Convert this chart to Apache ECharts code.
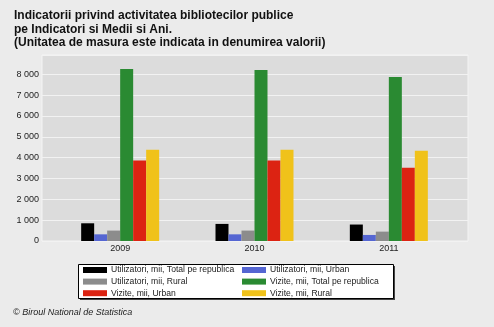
<!DOCTYPE html>
<html>
<head>
<meta charset="utf-8">
<script src="https://cdn.jsdelivr.net/npm/echarts@6/dist/echarts.min.js"></script>
<style>
  html, body { margin: 0; padding: 0; background: #ebebeb; }
  #chart { width: 494px; height: 327px; }
</style>
</head>
<body>
<div id="chart"></div>
<script>
// Categories (years)
const years = ['2009', '2010', '2011'];

// Series names
const seriesNames = [
  'Utilizatori, mii, Total pe republica',
  'Utilizatori, mii, Urban',
  'Utilizatori, mii, Rural',
  'Vizite, mii, Total pe republica',
  'Vizite, mii, Urban',
  'Vizite, mii, Rural'
];

// Values, thousands
const utilizatoriTotal = [850, 820, 790];
const utilizatoriUrban = [320, 320, 290];
const utilizatoriRural = [500, 500, 450];
const viziteTotal = [8255, 8207, 7870];
const viziteUrban = [3865, 3865, 3510];
const viziteRural = [4375, 4375, 4327];

// Y axis ticks
const yTickStep = 1000;
const yTop = 8925;

const seriesColors = ['#000000', '#5566d2', '#8c8c8c', '#2a8a32', '#dc2312', '#f0c21a'];
const seriesValues = [utilizatoriTotal, utilizatoriUrban, utilizatoriRural, viziteTotal, viziteUrban, viziteRural];

const FONT = '"Liberation Sans", Arial, sans-serif';

const chart = echarts.init(document.getElementById('chart'), null, { renderer: 'canvas' });

const fmt = v => String(v).replace(/\B(?=(\d{3})+(?!\d))/g, ' ');

const legendCommon = {
  orient: 'vertical',
  top: 264.5,
  padding: 0,
  itemWidth: 24,
  itemHeight: 6,
  itemGap: 0.6,
  icon: 'rect',
  itemStyle: { borderWidth: 0 },
  textStyle: { fontFamily: FONT, fontSize: 8.6, color: '#222', lineHeight: 11, padding: [0, 0, 0, -1] },
  selectedMode: false
};

const option = {
  backgroundColor: '#ebebeb',
  animation: false,
  textStyle: { fontFamily: FONT },
  graphic: [
    {
      type: 'text', left: 14, top: 9,
      style: {
        text: 'Indicatorii privind activitatea bibliotecilor publice\npe Indicatori si Medii si Ani.\n(Unitatea de masura este indicata in denumirea valorii)',
        font: 'bold 12px ' + FONT, fill: '#111', lineHeight: 13.5
      }
    },
    {
      type: 'rect', left: 80, top: 266, z: 0,
      shape: { width: 315, height: 34 },
      style: { fill: '#444' }
    },
    {
      type: 'rect', left: 78, top: 264, z: 1,
      shape: { width: 315, height: 34 },
      style: { fill: '#ffffff', stroke: '#000', lineWidth: 1 }
    },
    {
      type: 'text', left: 13, top: 308,
      style: { text: '\u00a9 Biroul National de Statistica', font: 'italic 9px ' + FONT, fill: '#222' }
    }
  ],
  legend: [
    Object.assign({}, legendCommon, { left: 83, data: [seriesNames[0], seriesNames[2], seriesNames[4]], z: 5 }),
    Object.assign({}, legendCommon, { left: 242, data: [seriesNames[1], seriesNames[3], seriesNames[5]], z: 5 })
  ],
  grid: [
    { left: 42, right: 26, top: 55, bottom: 86, show: true, backgroundColor: '#dcdcdc', borderColor: '#f4f4f4', borderWidth: 1 },
    { left: 53, right: 38, top: 55, bottom: 86 }
  ],
  xAxis: [
    { type: 'category', gridIndex: 0, data: years, show: false },
    {
      type: 'category', gridIndex: 1, data: years,
      axisLine: { show: false }, axisTick: { show: false },
      axisLabel: { fontFamily: FONT, fontSize: 9, color: '#222', margin: 3 }
    }
  ],
  yAxis: [
    {
      type: 'value', gridIndex: 0, min: 0, max: yTop, interval: yTickStep,
      axisLine: { show: false }, axisTick: { show: false },
      splitLine: { lineStyle: { color: '#f2f2f2', width: 1 } },
      axisLabel: { fontFamily: FONT, fontSize: 9, color: '#222', margin: 3, showMaxLabel: false, formatter: fmt }
    },
    {
      type: 'value', gridIndex: 1, min: 0, max: yTop, interval: yTickStep, show: false,
      splitLine: { show: false }
    }
  ],
  series: seriesNames.map((name, i) => ({
    name: name,
    type: 'bar',
    xAxisIndex: 1,
    yAxisIndex: 1,
    data: seriesValues[i],
    barWidth: 13,
    barGap: '0%',
    itemStyle: { color: seriesColors[i] }
  }))
};

chart.setOption(option);
</script>
</body>
</html>
